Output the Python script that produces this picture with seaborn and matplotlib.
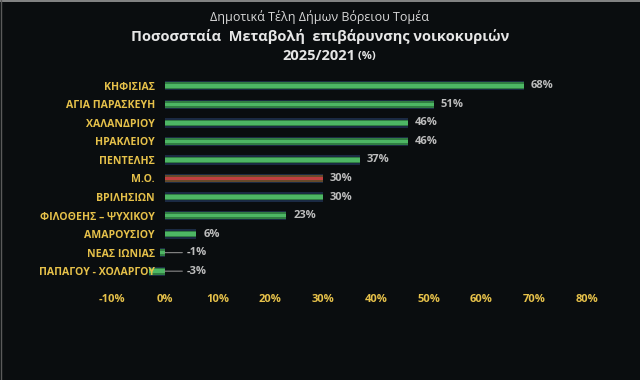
import matplotlib
matplotlib.use("Agg")
import matplotlib.pyplot as plt
import seaborn as sns
import pandas as pd

categories = ["ΚΗΦΙΣΙΑΣ", "ΑΓΙΑ ΠΑΡΑΣΚΕΥΗ", "ΧΑΛΑΝΔΡΙΟΥ", "ΗΡΑΚΛΕΙΟΥ", "ΠΕΝΤΕΛΗΣ",
              "Μ.Ο.", "ΒΡΙΛΗΣΙΩΝ", "ΦΙΛΟΘΕΗΣ – ΨΥΧΙΚΟΥ", "ΑΜΑΡΟΥΣΙΟΥ",
              "ΝΕΑΣ ΙΩΝΙΑΣ", "ΠΑΠΑΓΟΥ - ΧΟΛΑΡΓΟΥ"]
values = [68, 51, 46, 46, 37, 30, 30, 23, 6, -1, -3]
xticks = [-10, 0, 10, 20, 30, 40, 50, 60, 70, 80]

BG = "#0a0d0f"
GOLD = "#e6c14a"
GREY = "#bdbdbd"

sns.set_theme(style="dark")
plt.rcParams["font.family"] = ["Open Sans", "DejaVu Sans"]

df = pd.DataFrame({"cat": categories, "val": values,
                   "kind": ["avg" if c == "Μ.Ο." else "dim" for c in categories]})

fig = plt.figure(figsize=(6.4, 3.8), dpi=100, facecolor=BG)
ax = fig.add_axes([112 / 640, 1 - 286 / 380, (587 - 112) / 640, (286 - 71) / 380])
ax.set_facecolor(BG)

common = dict(data=df, y="cat", x="val", hue="kind", orient="h", dodge=False,
              legend=False, ax=ax, linewidth=0)
# dark navy glow
sns.barplot(palette={"dim": "#14284a", "avg": "#14284a"}, width=0.50, **common)
# darker outer band
sns.barplot(palette={"dim": "#238a3c", "avg": "#6e4a22"}, width=0.36, **common)
# bright centre
sns.barplot(palette={"dim": "#3cc75a", "avg": "#d42a2a"}, width=0.20, **common)

ax.spines["left"].set_position(("data", 0))
for s in ax.spines.values():
    s.set_visible(False)
ax.set_axisbelow(False)
ax.set_xlim(-10, 80)
ax.set_ylim(10.8, -0.8)
ax.set_xticks(xticks)
ax.set_xticklabels([f"{t}%" for t in xticks], color=GOLD, fontsize=8, fontweight="bold")
ax.set_yticks(range(len(categories)))
ax.set_yticklabels(categories, color=GOLD, fontsize=7.6, fontweight="bold")
ax.tick_params(axis="y", length=0, pad=7)
ax.tick_params(axis="x", length=0, pad=6)
ax.grid(False)
ax.set_xlabel("")
ax.set_ylabel("")

for i, v in enumerate(values):
    if v >= 0:
        ax.annotate(f"{v}%", (v, i), xytext=(5, 0), textcoords="offset points",
                    ha="left", va="center", color=GREY, fontsize=8, fontweight="bold")
    else:
        ax.annotate(f"{v}%", (0, i), xytext=(16, 0), textcoords="offset points",
                    ha="left", va="center", color=GREY, fontsize=8, fontweight="bold",
                    arrowprops=dict(arrowstyle="-", color="#8a8a8a", lw=0.8,
                                    shrinkA=1, shrinkB=0))

fig.text(0.5, 1 - 17 / 380, "Δημοτικά Τέλη Δήμων Βόρειου Τομέα", ha="center", va="center",
         color="#d8d8d8", fontsize=9)
fig.text(0.5, 1 - 37 / 380, "Ποσοσσταία  Μεταβολή  επιβάρυνσης νοικοκυριών", ha="center",
         va="center", color="#e6e6e6", fontsize=10.5, fontweight="bold")
fig.text(0.555, 1 - 56 / 380, "2025/2021", ha="right", va="center",
         color="#e6e6e6", fontsize=10.5, fontweight="bold")
fig.text(0.555, 1 - 56 / 380, " (%)", ha="left", va="center",
         color="#e6e6e6", fontsize=8, fontweight="bold")

# thin light frame at top and left like the reference screenshot
fig.add_artist(plt.Line2D([0, 1], [0.997, 0.997], color="#9a9a9a", lw=1.2, transform=fig.transFigure))
fig.add_artist(plt.Line2D([0.002, 0.002], [0, 1], color="#5a5a5a", lw=1.0, transform=fig.transFigure))

fig.savefig("out.png", dpi=100, facecolor=BG)
